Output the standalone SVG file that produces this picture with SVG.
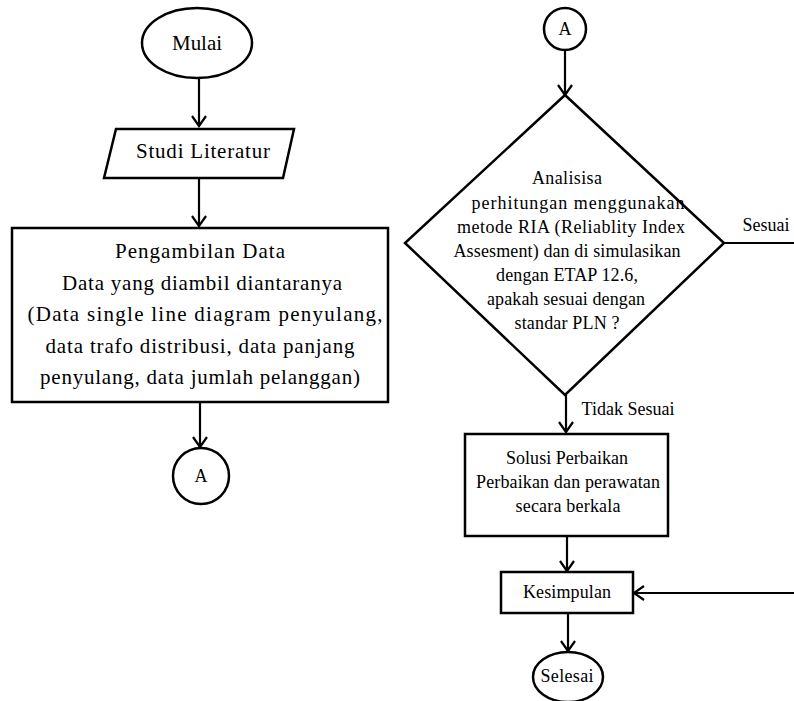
<svg xmlns="http://www.w3.org/2000/svg" width="794" height="701" viewBox="0 0 794 701">
<defs>
<style>
.s{fill:#fff;stroke:#000;stroke-width:2.5}
.c{fill:none;stroke:#000;stroke-width:2.2}
.t{font-family:'Liberation Serif','DejaVu Serif','Times New Roman',serif;fill:#000;text-anchor:middle;dominant-baseline:central}
.l{font-size:21px}
.m{font-size:18px}
</style>
<marker id="ah" viewBox="0 0 16 16" refX="14" refY="8" markerWidth="16" markerHeight="16" markerUnits="userSpaceOnUse" orient="auto">
<path d="M4,1 L14,8 L4,15" fill="none" stroke="#000" stroke-width="2.2"/>
</marker>
</defs>
<rect width="794" height="701" fill="#fff"/>
<g id="connectors">
<line class="c" x1="199" y1="78" x2="199" y2="126" marker-end="url(#ah)"/>
<line class="c" x1="199" y1="178" x2="199" y2="226" marker-end="url(#ah)"/>
<line class="c" x1="200" y1="402" x2="200" y2="447" marker-end="url(#ah)"/>
<line class="c" x1="565" y1="50" x2="565" y2="95" marker-end="url(#ah)"/>
<line class="c" x1="724" y1="243" x2="794" y2="243"/>
<text class="t m" x="766" y="225" textLength="47" lengthAdjust="spacing">Sesuai</text>
<line class="c" x1="566" y1="395" x2="566" y2="432" marker-end="url(#ah)"/>
<text class="t m" x="628" y="409" textLength="93" lengthAdjust="spacing">Tidak Sesuai</text>
<line class="c" x1="567" y1="536" x2="567" y2="571" marker-end="url(#ah)"/>
<line class="c" x1="794" y1="593" x2="634" y2="593" marker-end="url(#ah)"/>
<line class="c" x1="568" y1="613" x2="568" y2="651" marker-end="url(#ah)"/>
</g>
<g id="mulai">
<ellipse class="s" cx="197" cy="43" rx="55" ry="35"/>
<text class="t l" x="197" y="43" textLength="50" lengthAdjust="spacing">Mulai</text>
</g>
<g id="studi">
<polygon class="s" points="116,129 294,129 283,178 104,178"/>
<text class="t l" x="203" y="151" textLength="134" lengthAdjust="spacing">Studi Literatur</text>
</g>
<g id="pengambilan">
<rect class="s" x="12" y="228" width="376" height="174"/>
<text class="t l" x="200" y="251" textLength="170" lengthAdjust="spacing">Pengambilan Data</text>
<text class="t l" x="202" y="283" textLength="280" lengthAdjust="spacing">Data yang diambil diantaranya</text>
<text class="t l" x="205" y="314" textLength="355" lengthAdjust="spacing">(Data single line diagram penyulang,</text>
<text class="t l" x="200" y="346" textLength="309" lengthAdjust="spacing">data trafo distribusi, data panjang</text>
<text class="t l" x="200" y="377" textLength="320" lengthAdjust="spacing">penyulang, data jumlah pelanggan)</text>
</g>
<g id="a-left">
<circle class="s" cx="201" cy="476" r="28"/>
<text class="t m" x="201" y="476">A</text>
</g>
<g id="a-right">
<circle class="s" cx="565" cy="29" r="21"/>
<text class="t m" x="565" y="29">A</text>
</g>
<g id="analisisa">
<polygon class="s" points="565,95 724,243 565,395 405,243"/>
<text class="t m" x="567" y="178" textLength="70" lengthAdjust="spacing">Analisisa</text>
<text class="t m" x="578" y="203" textLength="213" lengthAdjust="spacing">perhitungan menggunakan</text>
<text class="t m" x="571" y="227" textLength="228" lengthAdjust="spacing">metode RIA (Reliablity Index</text>
<text class="t m" x="567" y="251" textLength="227" lengthAdjust="spacing">Assesment) dan di simulasikan</text>
<text class="t m" x="567" y="275" textLength="142" lengthAdjust="spacing">dengan ETAP 12.6,</text>
<text class="t m" x="566" y="299" textLength="158" lengthAdjust="spacing">apakah sesuai dengan</text>
<text class="t m" x="567" y="323" textLength="105" lengthAdjust="spacing">standar PLN ?</text>
</g>
<g id="solusi">
<rect class="s" x="465" y="434" width="203" height="102"/>
<text class="t m" x="567" y="458" textLength="122" lengthAdjust="spacing">Solusi Perbaikan</text>
<text class="t m" x="568" y="482" textLength="184" lengthAdjust="spacing">Perbaikan dan perawatan</text>
<text class="t m" x="568" y="506" textLength="105" lengthAdjust="spacing">secara berkala</text>
</g>
<g id="kesimpulan">
<rect class="s" x="501" y="572" width="132" height="41"/>
<text class="t m" x="567" y="592" textLength="88" lengthAdjust="spacing">Kesimpulan</text>
</g>
<g id="selesai">
<ellipse class="s" cx="568" cy="677" rx="35" ry="25"/>
<text class="t m" x="567" y="676" textLength="53" lengthAdjust="spacing">Selesai</text>
</g>
</svg>
